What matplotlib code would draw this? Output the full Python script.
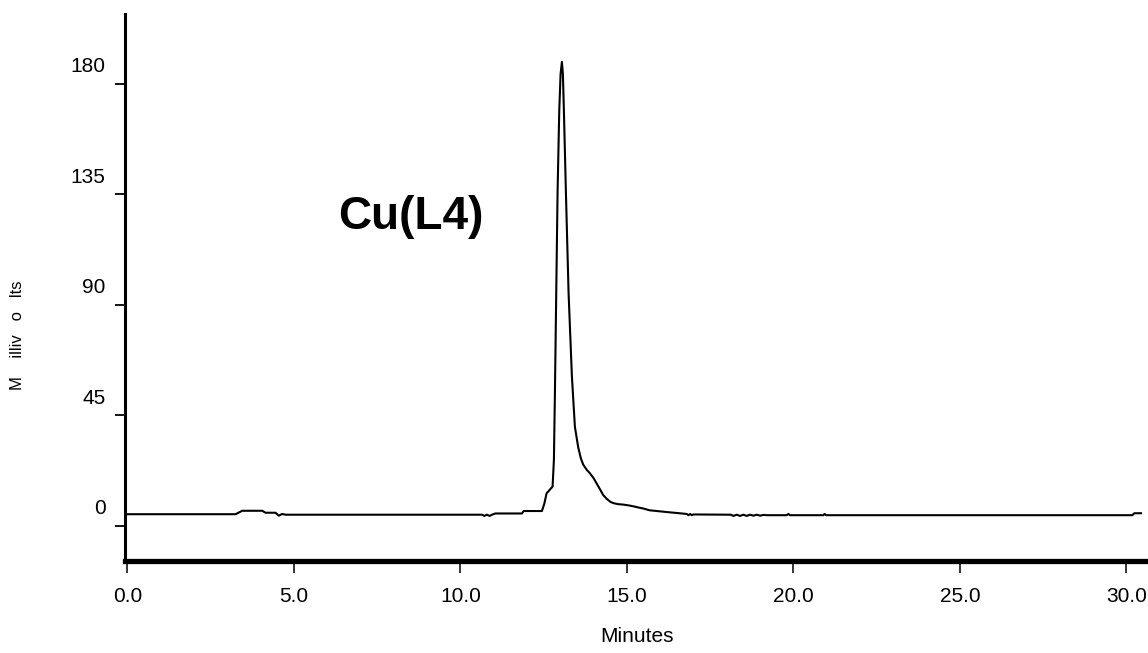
import matplotlib
matplotlib.use('Agg')
import matplotlib.pyplot as plt
import matplotlib.transforms as mtransforms

# chromatogram trace (minutes, millivolts)
minutes = [0.0, 3.25, 3.45, 4.05, 4.15, 4.45, 4.55, 4.65, 4.75,
           10.65, 10.72, 10.8, 10.88, 10.95, 11.05, 11.85, 11.9, 12.45,
           12.52, 12.59, 12.65, 12.72, 12.77, 12.81, 12.84, 12.88, 12.92,
           12.97, 13.01, 13.05, 13.08, 13.11, 13.17, 13.25, 13.35, 13.44,
           13.54, 13.62, 13.69, 13.8, 13.89, 14.0, 14.09, 14.2, 14.29,
           14.4, 14.51, 14.6, 14.73, 14.9, 15.05, 15.2, 15.36, 15.5,
           15.68, 15.9, 16.26, 16.5, 16.8, 16.85, 16.9, 16.95, 17.0,
           18.12, 18.2, 18.3, 18.4, 18.5, 18.6, 18.7, 18.8, 18.9, 19.0,
           19.1, 19.2, 19.8, 19.85, 19.9, 20.9, 20.94, 20.98, 30.18,
           30.24, 30.44]
millivolts = [4.8, 4.8, 6.2, 6.2, 5.4, 5.4, 4.2, 4.9, 4.6,
              4.6, 4.1, 4.6, 4.1, 4.6, 5.1, 5.1, 6.1, 6.1,
              9.0, 13.3, 14.2, 15.3, 16.0, 27.0, 54.0, 95.0, 136.0,
              169.0, 184.0, 189.0, 184.0, 169.0, 136.0, 95.0, 61.0, 40.4,
              32.0, 27.5, 25.0, 22.8, 21.5, 19.5, 17.4, 14.8, 12.6,
              11.0, 9.8, 9.3, 8.9, 8.7, 8.4, 8.0, 7.5, 7.1,
              6.4, 6.1, 5.6, 5.3, 4.9, 4.4, 4.9, 4.4, 4.7,
              4.6, 4.1, 4.6, 4.1, 4.6, 4.1, 4.6, 4.2, 4.6, 4.2,
              4.5, 4.4, 4.4, 4.9, 4.4, 4.4, 4.9, 4.4, 4.4,
              5.2, 5.2]

xticks = [0, 5, 10, 15, 20, 25, 30]
xticklabels = ['0.0', '5.0', '10.0', '15.0', '20.0', '25.0', '30.0']
yticks = [0, 45, 90, 135, 180]
yticklabels = ['0', '45', '90', '135', '180']

font = ['Liberation Sans', 'DejaVu Sans']

fig = plt.figure(figsize=(11.48, 6.53), dpi=100)
ax = fig.add_axes([125/1148, (653-560.5)/653, (1148-125)/1148, (560.5-14)/653])

ax.plot(minutes, millivolts, color='black', lw=1.5)

ax.set_xlim(-0.07, 30.65)
ax.set_ylim(-14.05, 208.5)

ax.spines['top'].set_visible(False)
ax.spines['right'].set_visible(False)
ax.spines['left'].set_linewidth(2.2)
ax.spines['bottom'].set_linewidth(3.8)

ax.set_xticks(xticks)
ax.set_xticklabels(xticklabels, family=font, fontsize=15)
ax.set_yticks(yticks)
ax.set_yticklabels(yticklabels, family=font, fontsize=15)
ax.tick_params(axis='x', direction='out', length=8.3, width=1.1, pad=11)
ax.tick_params(axis='y', direction='out', length=7, width=1.3, pad=7)

# the y labels sit above their ticks in the original
shift = mtransforms.ScaledTranslation(0, 19/100, fig.dpi_scale_trans)
for lbl in ax.get_yticklabels():
    lbl.set_transform(lbl.get_transform() + shift)

ax.set_xlabel('Minutes', family=font, fontsize=15, labelpad=15)
fig.text(18/1148, 1 - 335/653, 'M    illiv   o   lts', rotation=90,
         ha='center', va='center', family=font, fontsize=12)

ax.text(8.5, 126, 'Cu(L4)', ha='center', va='center',
        fontsize=33, fontweight='bold', family=font)

fig.savefig('out.png', dpi=100)
